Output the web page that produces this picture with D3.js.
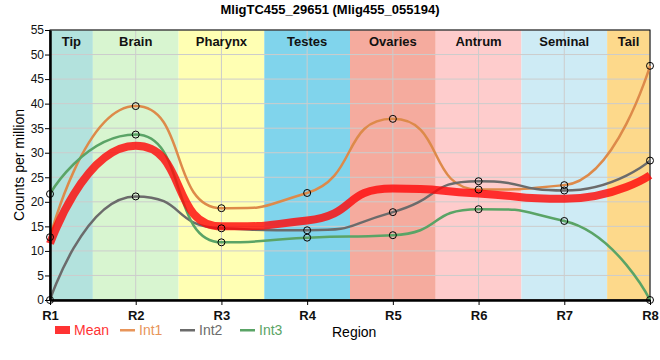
<html lang="en">
  <head>
    <title>MligTC455_29651</title>
    <script src="https://d3js.org/d3.v7.min.js"></script>
    <style>
    body { margin: 0; background: white; }
    svg text { font-family: "Liberation Sans", Arial, sans-serif; }
    .grid line { stroke: #cccccc; stroke-width: 1; }
    .axis path, .axis line { stroke: black; }
    .axis text { font-size: 12px; fill: #111; }
    </style>
  </head>
  <body>
    <svg id="chart"></svg>
    <script>
      var categories = ["R1","R2","R3","R4","R5","R6","R7","R8"];
      var regions = ["Tip","Brain","Pharynx","Testes","Ovaries","Antrum","Seminal","Tail"];
      var regionColors = ["#b3e2dd","#d8f5d0","#ffffb3","#80d4ec","#f5ab9e","#fecccc","#ceebf5","#fdd98b"];
      var mean = [11.5, 31.4, 15.0, 16.2, 22.7, 21.7, 20.6, 25.4];
      var int1 = [12.8, 39.5, 18.7, 21.8, 36.9, 22.5, 23.4, 47.7];
      var int2 = [0, 21.1, 14.6, 14.2, 17.9, 24.2, 22.3, 28.4];
      var int3 = [21.6, 33.7, 11.75, 12.7, 13.2, 18.5, 16.1, 0];
      var yTicks = [0,5,10,15,20,25,30,35,40,45,50,55];

      var width = 660, height = 360;
      var mLeft = 50, mRight = 650, mTop = 30, mBottom = 300;

      var svg = d3.select("#chart").attr("width", width).attr("height", height);

      var x = d3.scalePoint().domain(categories).range([mLeft, mRight]);
      var xi = d3.scaleLinear().domain([0, categories.length - 1]).range([mLeft, mRight]);
      var y = d3.scaleLinear().domain([0, 55]).range([mBottom, mTop]);

      function bandL(i){ return Math.max(mLeft, xi(i - 0.5)); }
      function bandR(i){ return Math.min(mRight, xi(i + 0.5)); }

      // region bands
      svg.append("g").selectAll("rect")
        .data(regions)
        .enter().append("rect")
        .attr("x", function(d, i){ return bandL(i); })
        .attr("width", function(d, i){ return bandR(i) - bandL(i); })
        .attr("y", mTop)
        .attr("height", mBottom - mTop)
        .attr("fill", function(d, i){ return regionColors[i]; });

      // grid
      var grid = svg.append("g").attr("class", "grid");
      grid.selectAll(".h").data(yTicks).enter().append("line")
        .attr("x1", mLeft).attr("x2", mRight)
        .attr("y1", y).attr("y2", y);
      grid.selectAll(".v").data(categories).enter().append("line")
        .attr("x1", x).attr("x2", x)
        .attr("y1", mTop).attr("y2", mBottom);

      // region labels
      svg.append("g").selectAll("text")
        .data(regions)
        .enter().append("text")
        .attr("x", function(d, i){ return (bandL(i) + bandR(i)) / 2; })
        .attr("y", mTop + 16)
        .attr("text-anchor", "middle")
        .style("font-size", "13px")
        .style("font-weight", "bold")
        .style("fill", "#111")
        .text(function(d){ return d; });

      // border
      svg.append("rect")
        .attr("x", mLeft).attr("y", mTop)
        .attr("width", mRight - mLeft).attr("height", mBottom - mTop)
        .attr("fill", "none").attr("stroke", "black").attr("stroke-width", 1);

      // spline: control points pulled toward neighbours, flattened at extremes
      function spline(values) {
        var pts = values.map(function(v, i){ return [x(categories[i]), y(v)]; });
        var p = d3.path();
        var sm = 0.67, den = sm + 1;
        var prevRX, prevRY;
        pts.forEach(function(pt, i){
          var px = pt[0], py = pt[1];
          var last = pts[i - 1], next = pts[i + 1];
          var lx = px, ly = py, rx, ry;
          if (last && next) {
            lx = (sm * px + last[0]) / den; ly = (sm * py + last[1]) / den;
            rx = (sm * px + next[0]) / den; ry = (sm * py + next[1]) / den;
            var corr = ((ry - ly) * (rx - px)) / (rx - lx) + py - ry;
            ly += corr; ry += corr;
            if (ly > last[1] && ly > py) { ly = Math.max(last[1], py); ry = 2 * py - ly; }
            else if (ly < last[1] && ly < py) { ly = Math.min(last[1], py); ry = 2 * py - ly; }
            if (ry > next[1] && ry > py) { ry = Math.max(next[1], py); ly = 2 * py - ry; }
            else if (ry < next[1] && ry < py) { ry = Math.min(next[1], py); ly = 2 * py - ry; }
          }
          if (i === 0) p.moveTo(px, py);
          else p.bezierCurveTo(prevRX !== undefined ? prevRX : last[0], prevRY !== undefined ? prevRY : last[1], lx, ly, px, py);
          prevRX = rx; prevRY = ry;
        });
        return p.toString();
      }

      var series = [
        {name: "Int1", values: int1, color: "#dd8a4a", w: 2.5},
        {name: "Int2", values: int2, color: "#6b6b6b", w: 2.5},
        {name: "Int3", values: int3, color: "#5aa466", w: 2.5}
      ];

      svg.append("g").selectAll("path")
        .data(series)
        .enter().append("path")
        .attr("d", function(d){ return spline(d.values); })
        .attr("fill", "none")
        .attr("stroke", function(d){ return d.color; })
        .attr("stroke-width", function(d){ return d.w; });

      svg.append("path")
        .attr("d", spline(mean))
        .attr("fill", "none")
        .attr("stroke", "rgba(255,10,10,0.82)")
        .attr("stroke-width", 8);

      // points
      series.forEach(function(s){
        svg.append("g").selectAll("circle")
          .data(s.values)
          .enter().append("circle")
          .attr("cx", function(d, i){ return x(categories[i]); })
          .attr("cy", y)
          .attr("r", 3.5)
          .attr("fill", "none")
          .attr("stroke", "black")
          .attr("stroke-width", 1);
      });

      // axes
      svg.append("g")
        .attr("class", "axis")
        .attr("transform", "translate(0," + mBottom + ")")
        .call(d3.axisBottom(x).tickSize(5).tickSizeOuter(0))
        .call(function(g){
          g.select(".domain").attr("stroke-width", 2.5);
          g.selectAll("text").style("font-size", "13px").style("font-weight", "bold").attr("dy", "0.9em");
        });

      svg.append("g")
        .attr("class", "axis")
        .attr("transform", "translate(" + mLeft + ",0)")
        .call(d3.axisLeft(y).tickValues(yTicks).tickSize(5).tickSizeOuter(0))
        .call(function(g){
          g.select(".domain").attr("stroke-width", 2.5);
          g.selectAll("text").attr("x", -6);
        });

      // title
      svg.append("text")
        .attr("x", width / 2).attr("y", 14)
        .attr("text-anchor", "middle")
        .style("font-size", "13px").style("font-weight", "bold")
        .text("MligTC455_29651 (Mlig455_055194)");

      svg.append("text")
        .attr("transform", "translate(24," + ((mTop + mBottom) / 2) + ") rotate(-90)")
        .attr("text-anchor", "middle")
        .style("font-size", "14px")
        .text("Counts per million");

      svg.append("text")
        .attr("x", 332).attr("y", 337)
        .style("font-size", "14px")
        .text("Region");

      // legend
      var legend = [
        {name: "Mean", color: "#ff3333", x: 55, rect: true},
        {name: "Int1", color: "#e8955a", x: 120},
        {name: "Int2", color: "#6b6b6b", x: 180},
        {name: "Int3", color: "#5aa466", x: 240}
      ];
      var lg = svg.append("g").selectAll("g").data(legend).enter().append("g")
        .attr("transform", function(d){ return "translate(" + d.x + ",330)"; });
      lg.append("rect")
        .attr("x", 0).attr("width", 15)
        .attr("y", function(d){ return d.rect ? -4 : -1; })
        .attr("height", function(d){ return d.rect ? 8 : 2.5; })
        .attr("fill", function(d){ return d.color; });
      lg.append("text")
        .attr("x", 19).attr("y", 5)
        .style("font-size", "14px")
        .style("fill", function(d){ return d.color; })
        .text(function(d){ return d.name; });
    </script>
  </body>
</html>
